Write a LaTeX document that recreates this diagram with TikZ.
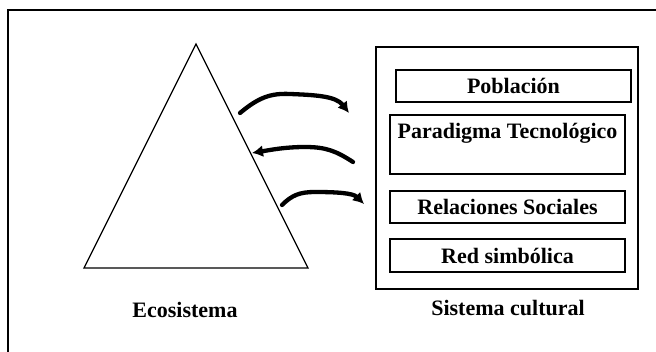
\documentclass[tikz,border=0pt]{standalone}
\usepackage{fontspec}
\setmainfont{Liberation Serif}
\usepackage{tikz}
\usetikzlibrary{arrows.meta,positioning,calc}

\begin{document}
\begin{tikzpicture}[
x=1pt, y=-1pt,
txt/.style={font=\fontsize{22}{26}\selectfont\bfseries, inner sep=0pt},
layer/.style={draw, line width=1.3pt, minimum width=235pt, minimum height=32pt, inner sep=0pt, font=\fontsize{22}{26}\selectfont\bfseries},
outer/.style={draw, line width=1.6pt, minimum width=262pt, minimum height=242pt, inner sep=0pt},
flow/.style={-{Latex[length=11pt, width=12pt]}, line width=4.3pt, line cap=round}
]
\useasboundingbox (0,0) rectangle (656,352);
\draw[line width=1.6pt] (8,353) |- (657,10);

\coordinate (apex) at (196,44);
\coordinate (bl) at (84,268);
\coordinate (br) at (308,268);
\draw[line width=1.3pt, line join=miter] (apex) -- (br) -- (bl) -- cycle;
\node[txt] (ecolab) at (185,310) {Ecosistema};

\node[outer] (cultura) at (507,168) {};
\node[layer] (pobl) at (513.5,86) {Población};
\node[layer, minimum height=59pt, label={[txt, anchor=north, yshift=-9pt]north:Paradigma Tecnológico}] (parad) at (507.5,144.5) {};
\node[layer] (relac) at (507.5,207) {Relaciones Sociales};
\node[layer, minimum height=33pt] (redsimb) at (507.5,255.5) {Red simbólica};
\node[txt] (cultlab) at (508,308) {Sistema cultural};

\coordinate (a1s) at (240,113);
\coordinate (a1e) at (349,113);
\coordinate (a2s) at (353,162);
\coordinate (a2e) at (252,153);
\coordinate (a3s) at (282,205);
\coordinate (a3e) at (364,204);

\draw[flow] (a1s) .. controls (258,98) and (270,93) .. (290,94) .. controls (315,95) and (336,96) .. (a1e);
\draw[flow] (a2s) .. controls (336,151) and (326,147) .. (305,147) .. controls (285,147) and (270,150) .. (a2e);
\draw[flow] (a3s) .. controls (292,195) and (300,192) .. (315,192) .. controls (336,192) and (353,193) .. (a3e);
\end{tikzpicture}
\end{document}
